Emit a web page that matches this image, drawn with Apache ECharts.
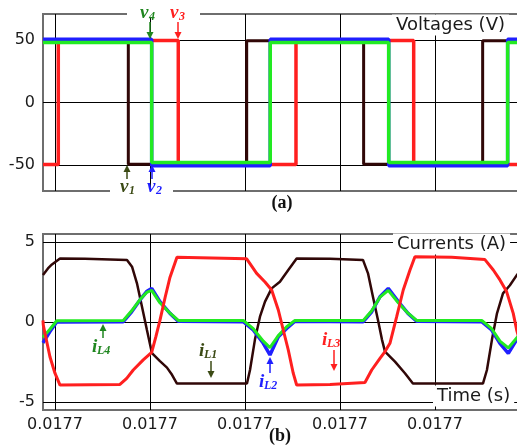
<!DOCTYPE html>
<html>
<head>
<meta charset="utf-8">
<script src="https://cdn.jsdelivr.net/npm/echarts@6/dist/echarts.min.js"></script>
<style>
html, body { margin: 0; padding: 0; background: #fff; }
#chart { width: 517px; height: 448px; }
</style>
</head>
<body>
<div id="chart"></div>
<script>
// x axis: one unit = one grid division (all labels read 0.0177 s)
var xMin = -0.126, xMax = 5.074;
var xTicks = [0, 1, 2, 3, 4];
var vTicks = [-50, 0, 50];
var iTicks = [-5, 0, 5];

// voltages: switching instants and the level held from each instant on
var v1Times = [xMin, 0.772, 2.018, 3.249, 4.502, xMax];
var v1Levels = [49.5, -49.5, 49.5, -49.5, 49.5, 49.5];
var v2Times = [xMin, 1.018, 2.266, 3.513, 4.765, xMax];
var v2Levels = [50.7, -50.7, 50.7, -50.7, 50.7, 50.7];
var v3Times = [xMin, 0.035, 1.298, 2.537, 3.776, 5.016, xMax];
var v3Levels = [-49.7, 49.7, -49.7, 49.7, -49.7, 49.7, 49.7];
var v4Times = [xMin, 1.018, 2.266, 3.513, 4.765, xMax];
var v4Levels = [48.2, -48.2, 48.2, -48.2, 48.2, 48.2];

// inductor currents [t, A]
var iL1 = [[-0.126, 2.94], [-0.074, 3.35], [-0.032, 3.6], [0.053, 3.97], [0.316, 3.95], [0.758, 3.88],
  [0.811, 3.46], [0.863, 2.42], [0.916, 0.96], [0.968, -0.5], [1.021, -1.95], [1.105, -2.45],
  [1.179, -2.85], [1.232, -3.3], [1.284, -3.85], [2.021, -3.85], [2.053, -3.0], [2.105, -1.1],
  [2.158, 0.33], [2.211, 1.27], [2.281, 2.1], [2.368, 2.52], [2.456, 3.25], [2.544, 3.97],
  [2.895, 3.95], [3.242, 3.88], [3.295, 3.04], [3.347, 1.58], [3.4, 0.12], [3.442, -1.1],
  [3.474, -1.85], [3.579, -2.48], [3.684, -3.2], [3.768, -3.85], [4.505, -3.85], [4.547, -3.0],
  [4.6, -1.1], [4.653, 0.54], [4.716, 1.79], [4.789, 2.3], [4.863, 2.94], [4.95, 3.5]];
var iL2 = [[-0.126, -1.3], [-0.053, -0.6], [0.018, 0.0], [0.719, 0.02], [0.807, 0.64], [0.895, 1.38],
  [0.965, 1.9], [1.018, 2.1], [1.105, 1.27], [1.211, 0.54], [1.298, 0.05], [1.982, 0.02],
  [2.087, -0.5], [2.193, -1.33], [2.263, -2.06], [2.351, -0.92], [2.439, -0.4], [2.526, 0.05],
  [3.245, 0.02], [3.334, 0.64], [3.421, 1.58], [3.508, 2.1], [3.614, 1.27], [3.716, 0.54],
  [3.807, 0.05], [4.492, 0.02], [4.597, -0.5], [4.684, -1.33], [4.772, -1.96], [4.86, -1.1], [4.947, -0.5]];
var iL3 = [[-0.126, 0.1], [-0.123, -0.19], [-0.105, -0.7], [-0.053, -2.17], [0, -3.2], [0.053, -3.94],
  [0.684, -3.9], [0.755, -3.52], [0.824, -3.0], [0.929, -2.37], [1.018, -1.9], [1.063, -0.9],
  [1.105, 0.1], [1.158, 1.5], [1.211, 2.8], [1.284, 4.05], [1.653, 4.0], [2.018, 3.95],
  [2.123, 3.04], [2.211, 2.5], [2.281, 2.0], [2.351, 0.75], [2.403, -0.5], [2.456, -1.75],
  [2.508, -3.2], [2.544, -3.94], [2.895, -3.9], [3.263, -3.78], [3.334, -3.0], [3.421, -2.27],
  [3.474, -1.85], [3.526, -1.33], [3.597, 0.33], [3.666, 2.0], [3.737, 3.25], [3.789, 4.08],
  [4.176, 4.05], [4.526, 3.9], [4.614, 3.25], [4.684, 2.63], [4.754, 1.9], [4.824, 0.54],
  [4.86, -0.5], [4.93, -2.0]];
var iL4 = [[-0.126, -0.95], [-0.053, -0.45], [0.018, 0.08], [0.719, 0.1], [0.807, 0.7], [0.895, 1.4],
  [0.965, 1.85], [1.018, 1.98], [1.105, 1.2], [1.211, 0.55], [1.298, 0.1], [1.982, 0.1],
  [2.087, -0.42], [2.193, -1.2], [2.263, -1.6], [2.351, -0.85], [2.439, -0.3], [2.526, 0.1],
  [3.245, 0.1], [3.334, 0.7], [3.421, 1.55], [3.508, 1.98], [3.614, 1.2], [3.716, 0.55],
  [3.807, 0.1], [4.492, 0.1], [4.597, -0.42], [4.684, -1.2], [4.772, -1.62], [4.86, -1.0], [4.947, -0.4]];

var cBlack = '#300707', cRed = '#ff1f1f', cBlue = '#1f1fff', cGreen = '#22ea22';
var cOlive = '#3b4a14', cDkGreen = '#1f861f';
var sans = 'DejaVu Sans';
var serif = '"Liberation Serif", serif';

function steps(times, levels) {
    return times.map(function (t, i) { return [t, levels[i]]; });
}

function timeLabel(v) {
    return (0.0177 + v * 2e-6).toFixed(4);
}

function xAxisCfg(gi, labels) {
    return {
        type: 'value', gridIndex: gi, min: xMin, max: xMax,
        axisLine: { show: false },
        axisTick: { show: true, inside: true, length: 4, customValues: xTicks, lineStyle: { color: '#000' } },
        axisLabel: { show: labels, customValues: xTicks, formatter: timeLabel, color: '#1a1a1a',
            fontFamily: sans, fontSize: 16, margin: 7 },
        splitLine: { show: true, lineStyle: { color: '#000', width: 1 } }
    };
}

function yAxisCfg(gi, lo, hi, ticks) {
    return {
        type: 'value', gridIndex: gi, min: lo, max: hi,
        axisLine: { show: false },
        axisTick: { show: true, inside: true, length: 4, customValues: ticks, lineStyle: { color: '#000' } },
        axisLabel: { customValues: ticks, color: '#1a1a1a', fontFamily: sans, fontSize: 16, margin: 8 },
        splitLine: { show: true, lineStyle: { color: '#000', width: 1 } }
    };
}

function line(name, data, color, width, gi, step) {
    return {
        name: name, type: 'line', xAxisIndex: gi, yAxisIndex: gi, data: data,
        step: step || false, symbol: 'none', showSymbol: false, clip: true,
        lineStyle: { color: color, width: width }, itemStyle: { color: color }
    };
}

// annotation helpers (pixel positions)
function label(x, y, main, sub, color) {
    return [
        { type: 'text', x: x, y: y, z: 20,
          style: { text: main, font: 'italic bold 19px ' + serif, fill: color, verticalAlign: 'middle' } },
        { type: 'text', x: x + (main === 'i' ? 5 : 9), y: y + 4, z: 20,
          style: { text: sub, font: 'italic bold 12px ' + serif, fill: color, verticalAlign: 'middle' } }
    ];
}

function arrow(x, y1, y2, color) {
    var d = y2 > y1 ? 1 : -1;
    return [
        { type: 'line', z: 20, shape: { x1: x, y1: y1, x2: x, y2: y2 - d * 5 },
          style: { stroke: color, lineWidth: 1.5 } },
        { type: 'polygon', z: 20, shape: { points: [[x - 3.5, y2 - d * 7], [x + 3.5, y2 - d * 7], [x, y2]] },
          style: { fill: color } }
    ];
}

function boxText(x, y, text) {
    return { type: 'text', x: x, y: y, z: 15,
        style: { text: text, font: '18px ' + sans, fill: '#1a1a1a', backgroundColor: '#fff',
            padding: [2, 4, 1, 4], verticalAlign: 'middle' } };
}

var graphics = [
    { type: 'rect', z: 10, shape: { x: 127, y: 10, width: 73, height: 8 }, style: { fill: '#fff' } },
    { type: 'rect', z: 10, shape: { x: 110, y: 187, width: 63, height: 8 }, style: { fill: '#fff' } },
    boxText(392, 25, 'Voltages (V)'),
    boxText(393, 244, 'Currents (A)'),
    boxText(433, 396, 'Time (s)'),
    { type: 'text', x: 282, y: 203, z: 20, style: { text: '(a)', font: 'bold 18px ' + serif, fill: '#111',
        align: 'center', verticalAlign: 'middle' } },
    { type: 'text', x: 280, y: 436, z: 20, style: { text: '(b)', font: 'bold 18px ' + serif, fill: '#111',
        align: 'center', verticalAlign: 'middle' } }
].concat(
    label(140, 13, 'v', '4', cDkGreen), arrow(150, 22, 39, cDkGreen),
    label(170, 13, 'v', '3', cRed), arrow(178, 22, 39, cRed),
    label(120, 187, 'v', '1', cOlive), arrow(127, 179, 165, cOlive),
    label(147, 187, 'v', '2', cBlue), arrow(152, 179, 165, cBlue),
    label(92, 347, 'i', 'L4', cDkGreen), arrow(103, 338, 324, cDkGreen),
    label(199, 351, 'i', 'L1', cOlive), arrow(211, 361, 378, cOlive),
    label(259, 382, 'i', 'L2', cBlue), arrow(270, 373, 357, cBlue),
    label(322, 340, 'i', 'L3', cRed), arrow(334, 350, 371, cRed)
);

var myChart = echarts.init(document.getElementById('chart'));

var option = {
    backgroundColor: '#fff',
    animation: false,
    grid: [
        { left: 43, top: 14, width: 494, height: 177, outerBoundsMode: 'none', containLabel: false,
          show: true, borderColor: '#6e6e6e', borderWidth: 2 },
        { left: 43, top: 234, width: 494, height: 176, outerBoundsMode: 'none', containLabel: false,
          show: true, borderColor: '#6e6e6e', borderWidth: 2 }
    ],
    xAxis: [xAxisCfg(0, false), xAxisCfg(1, true)],
    yAxis: [yAxisCfg(0, -71, 71, vTicks), yAxisCfg(1, -5.5, 5.5, iTicks)],
    series: [
        line('v1', steps(v1Times, v1Levels), cBlack, 3, 0, 'end'),
        line('v3', steps(v3Times, v3Levels), cRed, 3.5, 0, 'end'),
        line('v2', steps(v2Times, v2Levels), cBlue, 3.5, 0, 'end'),
        line('v4', steps(v4Times, v4Levels), cGreen, 3.5, 0, 'end'),
        line('iL1', iL1, cBlack, 2.5, 1),
        line('iL2', iL2, cBlue, 3.5, 1),
        line('iL4', iL4, cGreen, 3, 1),
        line('iL3', iL3, cRed, 3, 1)
    ],
    graphic: graphics
};

myChart.setOption(option, true);
</script>
</body>
</html>
